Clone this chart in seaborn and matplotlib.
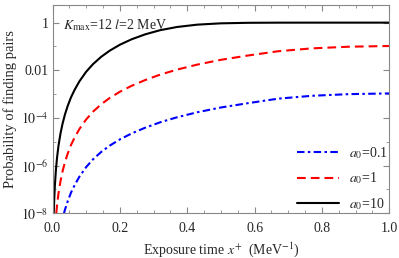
import numpy as np
import pandas as pd
import matplotlib
matplotlib.use('Agg')
import matplotlib.pyplot as plt
import matplotlib.ticker as mticker
import seaborn as sns

# values (x in MeV^-1, log10 of the probability)
x_a10 = [0.0037, 0.005, 0.007, 0.01, 0.0135, 0.018, 0.024, 0.03, 0.037, 0.045,
         0.055, 0.066, 0.08, 0.1, 0.12, 0.145, 0.17, 0.2, 0.235, 0.275,
         0.32, 0.37, 0.43, 0.5, 0.58, 0.67, 0.77, 0.88, 1.0]
logp_a10 = [-8.0, -7.45, -6.84, -6.2, -5.66, -5.14, -4.63, -4.23, -3.85, -3.5,
            -3.13, -2.81, -2.46, -2.06, -1.744, -1.428, -1.175, -0.927, -0.698, -0.492,
            -0.315, -0.182, -0.084, -0.029, -0.007, -0.001, 0.0, 0.0, 0.0]

x_a1 = [0.0112, 0.0135, 0.018, 0.024, 0.03, 0.037, 0.045, 0.055, 0.066, 0.08,
        0.1, 0.12, 0.145, 0.17, 0.2, 0.235, 0.275, 0.32, 0.37, 0.43,
        0.5, 0.58, 0.67, 0.77, 0.88, 1.0]
logp_a1 = [-8.0, -7.66, -7.14, -6.63, -6.23, -5.85, -5.5, -5.13, -4.81, -4.46,
           -4.06, -3.74, -3.42, -3.16, -2.9, -2.65, -2.41, -2.18, -1.97, -1.76,
           -1.56, -1.38, -1.2, -1.08, -1.01, -0.98]

x_a01 = [0.034, 0.037, 0.045, 0.055, 0.066, 0.08, 0.1, 0.12, 0.145, 0.17,
         0.2, 0.235, 0.275, 0.32, 0.37, 0.43, 0.5, 0.58, 0.67, 0.77,
         0.88, 1.0]
logp_a01 = [-8.0, -7.85, -7.5, -7.13, -6.81, -6.46, -6.06, -5.74, -5.42, -5.16,
            -4.9, -4.65, -4.41, -4.18, -3.97, -3.76, -3.56, -3.38, -3.19, -3.07,
            -3.0, -2.97]

labels = [r'$a_0$=0.1', r'$a_0$=1', r'$a_0$=10']

sns.set_theme(style='ticks')
plt.rcParams['font.family'] = ['Liberation Serif', 'DejaVu Serif']
plt.rcParams['mathtext.fontset'] = 'stix'
plt.rcParams['font.size'] = 10

fig = plt.figure(figsize=(3.99, 2.58), dpi=100)
ax = fig.add_axes([0.1316, 0.1733, 0.8441, 0.8073])

series = [
    (x_a01, logp_a01, 'blue', (0, (3.6, 1.6, 1.2, 1.6))),
    (x_a1, logp_a1, 'red', (0, (4.2, 2.4))),
    (x_a10, logp_a10, 'black', '-'),
]
for (xs, lp, col, ls), lab in zip(series, labels):
    df = pd.DataFrame({'x': xs, 'p': 10.0 ** np.array(lp)})
    sns.lineplot(data=df, x='x', y='p', color=col, linestyle=ls,
                 linewidth=1.5, label=lab, ax=ax)

ax.set_yscale('log')
ax.set_xlim(0, 1.0)
ax.set_ylim(1e-8, 10 ** 0.74)

ax.yaxis.set_major_locator(mticker.FixedLocator([1e-8, 1e-6, 1e-4, 1e-2, 1]))
ax.yaxis.set_minor_locator(mticker.FixedLocator([1e-7, 1e-5, 1e-3, 1e-1]))
ax.yaxis.set_minor_formatter(mticker.NullFormatter())
ax.set_yticklabels([r'$10^{-8}$', r'$10^{-6}$', r'$10^{-4}$', '0.01', '1'])
ax.xaxis.set_major_locator(mticker.MultipleLocator(0.2))
ax.xaxis.set_minor_locator(mticker.MultipleLocator(0.05))
ax.xaxis.set_major_formatter(mticker.FormatStrFormatter('%.1f'))

ax.tick_params(which='both', direction='in', top=True, right=True,
               color='#888888', labelsize=10)
ax.tick_params(axis='x', pad=6)
ax.tick_params(axis='y', pad=3)
ax.tick_params(which='major', length=4, width=0.8)
ax.tick_params(which='minor', length=2.5, width=0.6)
for sp in ax.spines.values():
    sp.set_color('#888888')
    sp.set_linewidth(0.8)

ax.set_xlabel(r'Exposure time $x^{+}$  (MeV$^{-1}$)', fontsize=10, labelpad=4)
ax.set_ylabel('Probability of finding pairs', fontsize=10.5, labelpad=3)

ax.text(0.03, 0.94, r'$K_{\rm max}$=12 $l$=2 MeV', transform=ax.transAxes,
        ha='left', va='top', fontsize=10)

ax.legend(loc='lower right', frameon=False, fontsize=10, handlelength=3.0,
          labelspacing=0.7, borderaxespad=0.0, borderpad=0.1,
          handletextpad=0.75)

fig.savefig('out.png', dpi=100)
